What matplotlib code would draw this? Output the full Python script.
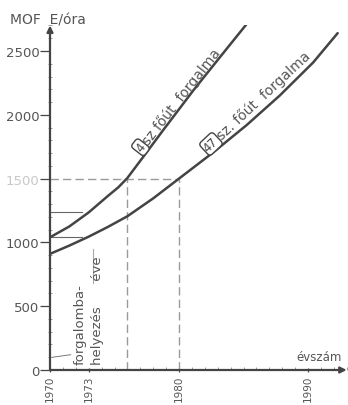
import matplotlib
matplotlib.use("Agg")
import matplotlib.pyplot as plt
from matplotlib.ticker import MultipleLocator
import numpy as np

# ---- data ----
years_4 = [1970, 1971.5, 1973, 1974.5, 1975.3, 1976, 1977.3, 1978.7, 1981.1, 1983.2, 1985.25]
traffic_4 = [1040, 1125, 1235, 1365, 1432, 1505, 1680, 1870, 2190, 2455, 2712]
years_47 = [1970, 1971.5, 1973, 1974.5, 1976, 1978, 1980, 1982.66, 1985.25, 1987.8, 1990.4, 1992.3]
traffic_47 = [910, 975, 1045, 1122, 1205, 1345, 1500, 1706, 1920, 2150, 2410, 2640]
y_ticks = [0, 500, 1000, 1500, 2000, 2500]
y_tick_labels = ["0", "500", "1000", "1500", "2000", "2500"]
x_ticks = [1970, 1973, 1980, 1990]
x_tick_labels = ["1970", "1973", "1980", "1990"]
threshold = 1500
threshold_years = [1976, 1980]
open_year = 1973
open_values = [1040, 1240]

INK = "#444444"
TXT = "#555555"
GREY = "#9a9a9a"

XPX = 12.9      # pixels per year
YPX = 0.1276    # pixels per unit

fig = plt.figure(figsize=(3.48, 4.06), dpi=100)
ax = fig.add_axes([50/348, 35/406, 23*XPX/348, 2700*YPX/406])
ax.set_xlim(1970, 1993)
ax.set_ylim(0, 2700)
for s in ax.spines.values():
    s.set_visible(False)

# axes with arrows
ax.annotate("", xy=(0, 1.0), xytext=(0, 0), xycoords="axes fraction",
            arrowprops=dict(arrowstyle="-|>", color=INK, lw=1.6, mutation_scale=9,
                            shrinkA=0, shrinkB=0))
ax.annotate("", xy=(1.0, 0), xytext=(0, 0), xycoords="axes fraction",
            arrowprops=dict(arrowstyle="-|>", color=INK, lw=1.6, mutation_scale=9,
                            shrinkA=0, shrinkB=0))

# ticks
ax.set_yticks(y_ticks)
ax.set_yticklabels(y_tick_labels)
ax.yaxis.set_minor_locator(MultipleLocator(100))
ax.set_xticks(x_ticks)
ax.set_xticklabels(x_tick_labels, rotation=90)
ax.xaxis.set_minor_locator(MultipleLocator(1))
ax.tick_params(axis="y", which="major", length=7, width=0.9, color=INK,
               labelsize=9.5, labelcolor=TXT, pad=0.5)
ax.tick_params(axis="y", which="minor", length=3, width=0.6, color="#888888", direction="inout")
ax.tick_params(axis="x", which="major", length=3, width=0.9, color=INK,
               labelsize=7.5, labelcolor=TXT, pad=2, direction="inout")
ax.tick_params(axis="x", which="minor", length=2.5, width=0.6, color="#888888", direction="in")
for lbl in ax.get_yticklabels():
    if lbl.get_text() == "1500":
        lbl.set_color("#c8c8c8")

# helper lines
ax.plot([1970, threshold_years[1]], [threshold, threshold], ls=(0, (6, 3)), color=GREY, lw=1.0)
for yr in threshold_years:
    ax.plot([yr, yr], [0, threshold], ls=(0, (6, 3)), color=GREY, lw=1.0)
for v in open_values:
    ax.plot([1970, open_year - 0.5], [v, v], color="#666666", lw=0.8)
ax.plot([open_year + 0.3, open_year + 0.3], [680, 950], color="#aaaaaa", lw=0.8)
ax.plot([1970.2, 1971.6], [100, 120], color="#777777", lw=0.7)

# curves
ax.plot(years_4, traffic_4, color=INK, lw=1.8, solid_capstyle="round", solid_joinstyle="round")
ax.plot(years_47, traffic_47, color=INK, lw=1.8, solid_capstyle="round", solid_joinstyle="round")


def offset(x, y, ang, along_px, perp_px):
    a = np.deg2rad(ang)
    dx = along_px * np.cos(a) - perp_px * np.sin(a)
    dy = along_px * np.sin(a) + perp_px * np.cos(a)
    return x + dx / XPX, y + dy / YPX


def curve_label(xs, ys, year, ang, num, text, gap):
    cy = np.interp(year, xs, ys)
    box = dict(boxstyle="round,pad=0.15,rounding_size=0.3", fc="white", ec=INK, lw=1.0)
    bx, by = offset(year, cy, ang, 0, 8)
    ax.text(bx, by, num, rotation=ang, rotation_mode="anchor", ha="center", va="center",
            fontsize=8.5, color=INK, bbox=box)
    tx, ty = offset(year, cy, ang, gap, 3.0)
    ax.text(tx, ty, text, rotation=ang, rotation_mode="anchor",
            ha="left", va="baseline", fontsize=10, color=TXT)


curve_label(years_4, traffic_4, 1977.5, 52, "4", "sz főút  forgalma", 7)
curve_label(years_47, traffic_47, 1982.9, 43, "47", "sz. főút  forgalma", 11)

ax.text(1973.0, 50, "forgalomba-\nhelyezés      éve", rotation=90, rotation_mode="anchor",
        ha="left", va="center", fontsize=9.5, color=TXT, linespacing=1.45)

fig.text(10/348, 1 - 20/406, "MOF  E/óra", fontsize=10, color=TXT, va="center", ha="left")
fig.text(296/348, 1 - 358/406, "évszám", fontsize=8.5, color=TXT, va="center", ha="left")

fig.savefig("out.png", dpi=100)
